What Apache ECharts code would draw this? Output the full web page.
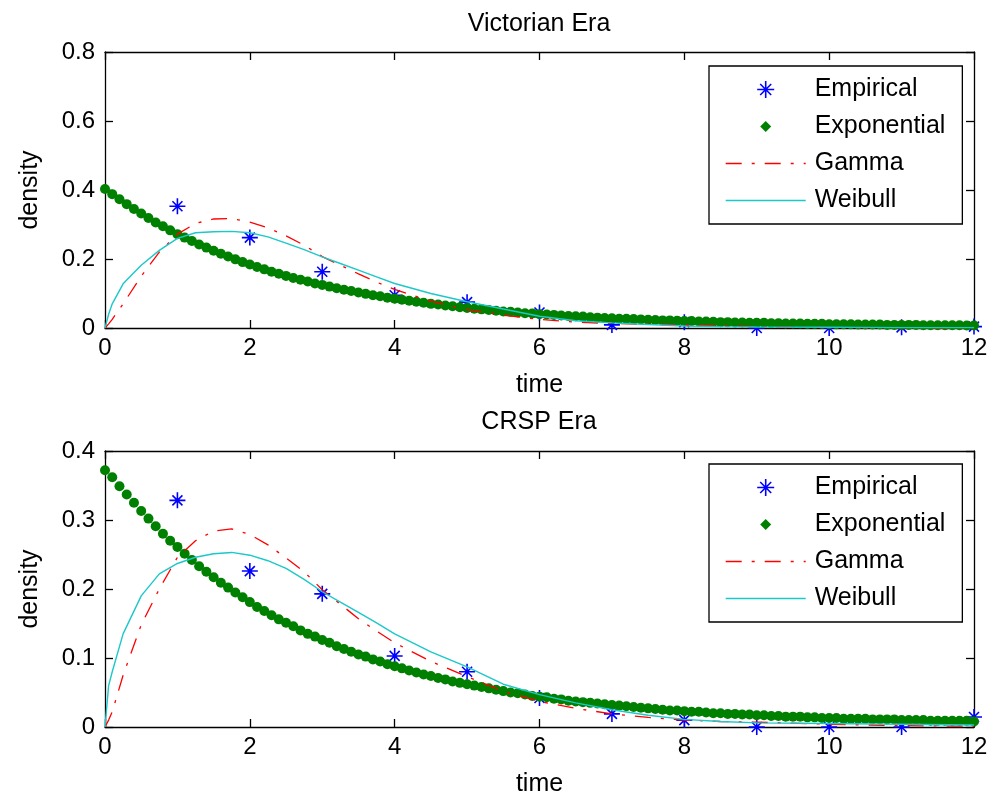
<!DOCTYPE html>
<html>
<head>
<meta charset="utf-8">
<script src="https://cdn.jsdelivr.net/npm/echarts@6/dist/echarts.min.js"></script>
<style>html,body{margin:0;padding:0;background:#fff;}#chart{width:991px;height:799px;}</style>
</head>
<body>
<div id="chart"></div>
<script>
// ---------- data ----------
const panelTitles = ['Victorian Era', 'CRSP Era'];
const xTicks = [0, 2, 4, 6, 8, 10, 12];
const yMaxes = [0.8, 0.4];
const yIntervals = [0.2, 0.1];

const empiricalTimes = [1, 2, 3, 4, 5, 6, 7, 8, 9, 10, 11, 12];
const empiricalTop = [0.353, 0.262, 0.163, 0.095, 0.075, 0.045, 0.009, 0.017, 0, 0, 0.002, 0.004];
const empiricalBottom = [0.3285, 0.226, 0.193, 0.103, 0.080, 0.042, 0.019, 0.010, 0, 0, 0, 0.0145];

const expTimes = [0,0.1,0.2,0.3,0.4,0.5,0.6,0.7,0.8,0.9,1,1.1,1.2,1.3,1.4,1.5,1.6,1.7,1.8,1.9,2,2.1,2.2,2.3,2.4,2.5,2.6,2.7,2.8,2.9,3,3.1,3.2,3.3,3.4,3.5,3.6,3.7,3.8,3.9,4,4.1,4.2,4.3,4.4,4.5,4.6,4.7,4.8,4.9,5,5.1,5.2,5.3,5.4,5.5,5.6,5.7,5.8,5.9,6,6.1,6.2,6.3,6.4,6.5,6.6,6.7,6.8,6.9,7,7.1,7.2,7.3,7.4,7.5,7.6,7.7,7.8,7.9,8,8.1,8.2,8.3,8.4,8.5,8.6,8.7,8.8,8.9,9,9.1,9.2,9.3,9.4,9.5,9.6,9.7,9.8,9.9,10,10.1,10.2,10.3,10.4,10.5,10.6,10.7,10.8,10.9,11,11.1,11.2,11.3,11.4,11.5,11.6,11.7,11.8,11.9,12];
const expTop = [
  0.403,0.388,0.373,0.359,0.345,0.332,0.319,0.306,0.295,0.283,
  0.272,0.262,0.252,0.242,0.233,0.224,0.215,0.207,0.199,0.191,
  0.184,0.177,0.170,0.163,0.157,0.151,0.145,0.140,0.135,0.129,
  0.125,0.120,0.115,0.111,0.107,0.103,0.099,0.095,0.092,0.088,
  0.085,0.082,0.079,0.076,0.073,0.070,0.068,0.065,0.063,0.060,
  0.058,0.056,0.054,0.052,0.050,0.048,0.047,0.045,0.043,0.042,
  0.040,0.039,0.038,0.036,0.035,0.034,0.033,0.031,0.030,0.029,
  0.028,0.027,0.027,0.026,0.025,0.024,0.023,0.022,0.022,0.021,
  0.020,0.020,0.019,0.019,0.018,0.017,0.017,0.016,0.016,0.015,
  0.015,0.015,0.014,0.014,0.013,0.013,0.013,0.012,0.012,0.012,
  0.011,0.011,0.011,0.011,0.010,0.010,0.010,0.010,0.009,0.009,
  0.009,0.009,0.009,0.008,0.008,0.008,0.008,0.008,0.008,0.007,
  0.007];
const expBottom = [
  0.372,0.362,0.349,0.337,0.325,0.313,0.302,0.291,0.280,0.270,
  0.261,0.251,0.242,0.233,0.225,0.217,0.209,0.202,0.195,0.188,
  0.181,0.174,0.168,0.162,0.156,0.151,0.146,0.140,0.135,0.131,
  0.126,0.122,0.117,0.113,0.109,0.105,0.102,0.098,0.095,0.091,
  0.088,0.085,0.082,0.079,0.076,0.074,0.071,0.069,0.066,0.064,
  0.062,0.060,0.058,0.056,0.054,0.052,0.050,0.049,0.047,0.045,
  0.044,0.043,0.041,0.040,0.038,0.037,0.036,0.035,0.034,0.033,
  0.032,0.031,0.030,0.029,0.028,0.027,0.026,0.025,0.024,0.024,
  0.023,0.022,0.022,0.021,0.020,0.020,0.019,0.019,0.018,0.018,
  0.017,0.017,0.016,0.016,0.015,0.015,0.015,0.014,0.014,0.013,
  0.013,0.013,0.012,0.012,0.012,0.012,0.011,0.011,0.011,0.011,
  0.010,0.010,0.010,0.010,0.009,0.009,0.009,0.009,0.009,0.009,
  0.008];

const fitTimes = [0,0.05,0.1,0.25,0.5,0.75,1,1.25,1.5,1.75,2,2.25,2.5,2.75,3,3.25,3.5,3.75,4,4.5,5,5.5,6,6.5,7,7.5,8,8.5,9,10,11,12];
const gammaTop = [0,0.012,0.025,0.07,0.15,0.22,0.272,0.303,0.316,0.317,0.307,0.29,0.267,0.24,0.207,0.182,0.157,0.133,0.112,0.078,0.053,0.037,0.025,0.017,0.013,0.011,0.009,0.006,0.004,0.002,0.001,0.0005];
const weibullTop = [0,0.04,0.07,0.128,0.182,0.225,0.26,0.276,0.279,0.28,0.276,0.264,0.246,0.227,0.206,0.187,0.168,0.148,0.129,0.1,0.076,0.055,0.034,0.021,0.015,0.01,0.006,0.004,0.003,0.002,0.001,0.001];
const gammaBottom = [0,0.01,0.022,0.075,0.148,0.2,0.246,0.27,0.284,0.287,0.279,0.264,0.245,0.225,0.199,0.178,0.157,0.139,0.122,0.095,0.073,0.052,0.037,0.027,0.019,0.014,0.01,0.008,0.007,0.004,0.002,0.001];
const weibullBottom = [0,0.06,0.08,0.135,0.19,0.222,0.237,0.246,0.251,0.253,0.249,0.241,0.23,0.214,0.196,0.181,0.166,0.151,0.135,0.109,0.087,0.062,0.047,0.035,0.025,0.017,0.011,0.008,0.006,0.005,0.004,0.003];

const seriesNames = ['Empirical', 'Exponential', 'Gamma', 'Weibull'];

// ---------- style ----------
const FONT = '"Liberation Sans", Arial, sans-serif';
const BLUE = '#0000ff', GREEN = '#008000', RED = '#ff0000', CYAN = '#1cc8c8';
const STAR = 'path://M0 8 L16 8 M8 0 L8 16 M3 3 L13 13 M3 13 L13 3';
const STAR_ICON = 'path://M0 0 M20 20 M1.5 10 L18.5 10 M10 1.5 L10 18.5 M4.5 4.5 L15.5 15.5 M4.5 15.5 L15.5 4.5';
const DOT_ICON = 'path://M0 0 M20 20 M10 4.5 L15.5 10 L10 15.5 L4.5 10 Z';
const DASHDOT = [16, 10, 3, 10];

const grids = [
  {left: 105, top: 52, width: 869, height: 276},
  {left: 105, top: 451, width: 869, height: 276}
];
const legendTops = [66, 464];
const titleTops = [12, 410];

const axisLineStyle = {color: '#000', width: 1.3};
const txt = {color: '#000', fontFamily: FONT};

const xAxis = [], yAxis = [], series = [], legend = [], title = [];
grids.forEach((g, i) => {
  xAxis.push({
    type: 'value', gridIndex: i, min: xTicks[0], max: xTicks[xTicks.length - 1], interval: xTicks[1] - xTicks[0],
    position: 'bottom',
    axisLine: {show: true, onZero: false, lineStyle: axisLineStyle},
    axisTick: {show: true, inside: true, length: 8, lineStyle: axisLineStyle},
    axisLabel: Object.assign({fontSize: 24, margin: 8}, txt),
    splitLine: {show: false},
    name: 'time', nameLocation: 'middle', nameGap: 45,
    nameTextStyle: Object.assign({fontSize: 25}, txt)
  });
  xAxis.push({
    type: 'value', gridIndex: i, min: xTicks[0], max: xTicks[xTicks.length - 1], interval: xTicks[1] - xTicks[0],
    position: 'top',
    axisLine: {show: true, onZero: false, lineStyle: axisLineStyle},
    axisTick: {show: true, inside: true, length: 8, lineStyle: axisLineStyle},
    axisLabel: {show: false}, splitLine: {show: false}
  });
  yAxis.push({
    type: 'value', gridIndex: i, min: 0, max: yMaxes[i], interval: yIntervals[i],
    position: 'left',
    axisLine: {show: true, onZero: false, lineStyle: axisLineStyle},
    axisTick: {show: true, inside: true, length: 8, lineStyle: axisLineStyle},
    axisLabel: Object.assign({fontSize: 24, margin: 10}, txt),
    splitLine: {show: false},
    name: 'density', nameLocation: 'middle', nameGap: 62,
    nameTextStyle: Object.assign({fontSize: 25}, txt)
  });
  yAxis.push({
    type: 'value', gridIndex: i, min: 0, max: yMaxes[i], interval: yIntervals[i],
    position: 'right',
    axisLine: {show: true, onZero: false, lineStyle: axisLineStyle},
    axisTick: {show: true, inside: true, length: 8, lineStyle: axisLineStyle},
    axisLabel: {show: false}, splitLine: {show: false}
  });

  const emp = i === 0 ? empiricalTop : empiricalBottom;
  const ex = i === 0 ? expTop : expBottom;
  const ga = i === 0 ? gammaTop : gammaBottom;
  const we = i === 0 ? weibullTop : weibullBottom;
  const xi = i * 2, yi = i * 2;

  series.push({
    name: seriesNames[0], type: 'scatter', xAxisIndex: xi, yAxisIndex: yi,
    symbol: STAR, symbolSize: 16,
    itemStyle: {color: BLUE, borderColor: BLUE, borderWidth: 1.6, opacity: 1},
    data: empiricalTimes.map((t, k) => [t, emp[k]])
  });
  series.push({
    name: seriesNames[1], type: 'scatter', xAxisIndex: xi, yAxisIndex: yi,
    symbol: 'circle', symbolSize: 10,
    itemStyle: {color: GREEN, opacity: 1},
    data: expTimes.map((t, k) => [t, ex[k]])
  });
  series.push({
    name: seriesNames[2], type: 'line', xAxisIndex: xi, yAxisIndex: yi,
    symbol: 'none', smooth: false,
    lineStyle: {color: RED, width: 1.3, type: DASHDOT},
    data: fitTimes.map((t, k) => [t, ga[k]])
  });
  series.push({
    name: seriesNames[3], type: 'line', xAxisIndex: xi, yAxisIndex: yi,
    symbol: 'none', smooth: false,
    lineStyle: {color: CYAN, width: 1.4, type: 'solid'},
    data: fitTimes.map((t, k) => [t, we[k]])
  });

  legend.push({
    orient: 'vertical', left: 709, top: legendTops[i],
    padding: [11, 17, 11, 16], itemGap: 12, itemWidth: 80, itemHeight: 20,
    borderColor: '#000', borderWidth: 1.3, backgroundColor: '#fff',
    selectedMode: false,
    textStyle: Object.assign({fontSize: 25, lineHeight: 25, padding: [0, 0, 0, 4]}, txt),
    data: [
      {name: seriesNames[0], icon: STAR_ICON, itemStyle: {color: BLUE, borderColor: BLUE, borderWidth: 1.6, opacity: 1}},
      {name: seriesNames[1], icon: DOT_ICON, itemStyle: {color: GREEN, borderWidth: 0, opacity: 1}},
      {name: seriesNames[2], itemStyle: {opacity: 0}, lineStyle: {color: RED, width: 1.3, type: DASHDOT}},
      {name: seriesNames[3], itemStyle: {opacity: 0}, lineStyle: {color: CYAN, width: 1.4, type: 'solid'}}
    ]
  });

  title.push({
    text: panelTitles[i], left: 539, top: titleTops[i], textAlign: 'center', padding: 0,
    textStyle: Object.assign({fontSize: 25, fontWeight: 'normal', lineHeight: 25}, txt)
  });
});

const chart = echarts.init(document.getElementById('chart'), null, {renderer: 'canvas'});
chart.setOption({
  animation: false,
  backgroundColor: '#fff',
  title, legend, grid: grids, xAxis, yAxis, series
});
</script>
</body>
</html>
